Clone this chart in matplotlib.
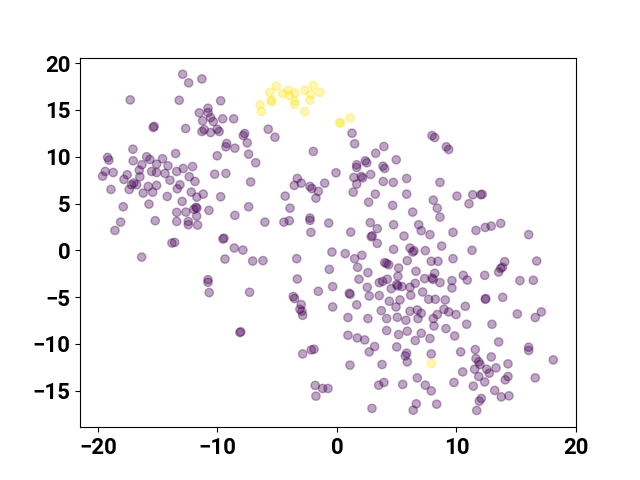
import matplotlib
matplotlib.use("Agg")
import matplotlib.pyplot as plt
import numpy as np

# Cluster 0 (purple) points
purple_x = [
    -12.91, -12.41, -11.30, -17.30, -13.20, -11.52, -11.24, -15.37, -15.30, -12.66,
    -11.30, -11.10, -17.07, -13.50, -19.19, -19.08, -15.92, -15.65, -14.59, -17.05,
    -16.32, -15.09, -14.14, -12.08, -12.86, -19.39, -18.72, -16.54, -15.51, -15.09,
    -14.39, -13.41, -19.61, -17.55, -16.49, -17.82, -13.97, -12.36, -17.18, -17.00,
    -16.76, -15.79, -15.09, -13.14, -11.88, -18.91, -17.38, -16.21, -15.42, -14.20,
    -13.36, -12.19, -11.72, -11.19, -17.88, -15.73, -12.95, -13.41, -12.64, -11.97,
    -11.80, -11.72, -11.74, -18.10, -15.21, -13.41, -12.44, -12.44, -11.66, -18.58,
    -13.81, -13.58, -16.34,
    -9.73, -10.79, -10.79, -10.57, -10.35, -9.56, -8.64, -10.57, -10.02, -9.85,
    -5.75, -5.19, -7.72, -7.84, -7.51, -9.23, -9.29, -8.54, -7.39, -10.02,
    -6.80, -1.98, -10.23, -9.29, -7.22, -3.32, -2.99,
    1.26, 1.48, 7.95, 8.18, 9.15, 9.35, 3.93, 3.24, 4.96, 2.37,
    2.49, 1.65, 1.65, 3.85, 3.99, -0.08, 1.42, 2.03, 2.15, 2.82,
    5.83, 3.87, 4.71, 8.62,
    -9.73, -10.71, -8.54, -7.39, -6.03, -4.33, -3.93, -4.44, -3.99, -3.57,
    -2.26, -2.10, -1.56, -1.76, -1.03, -2.26, -2.26, -0.69, -2.18, -9.54,
    -9.45, -8.59, -7.87, -9.37, -7.05, -6.19, -3.37, -0.64, -3.32, -10.79,
    -10.79, -10.69, -7.31, -3.66, -3.54, -1.56, -0.36, -2.99,
    1.65, 1.36, 3.21, 5.83, 2.65, 4.66, 8.06, 8.39, 8.62, 6.33,
    2.79, 3.37, 4.74, 6.84, 7.05, 7.78, 1.15, 2.87, 2.95, 3.37,
    5.61, 4.74, 6.11, 6.33, 6.45, 7.39, 8.76, 9.71, -0.42, 0.69,
    1.48, 2.09, 1.73, 3.99, 4.33, 4.15, 5.88, 7.89, 8.45, 9.71,
    2.59, 5.16, 6.61, 8.18, 1.84, 3.54, 3.82, 4.21, 5.10, 7.34,
    7.95, 8.05, 8.62, 2.54, 4.54, 5.00, 5.10, 5.44, 6.11, 6.55,
    9.62, 1.03, 1.10, 2.70, 3.54, 4.38, 5.27, 6.17, 7.17, 7.67,
    8.23, 9.06, 1.65,
    10.04, 11.36, 12.03, 12.15, 11.05, 11.63, 12.41, 12.91, 13.70, 16.04,
    11.30, 14.03, 13.70, 13.85, 13.53, 16.71, 10.57, 10.90, 12.36, 15.31,
    16.43, 9.62, 12.41, 12.45, 13.87, 10.74,
    -3.10, -2.93, -2.87, -8.12, -8.05, -2.87, -2.15, -1.92, -1.82, -1.20,
    -0.75, -1.76,
    -0.36, 3.71, 4.94, 6.11, 6.72, 7.05, 8.39, 8.95, 9.35, 0.92,
    2.59, 4.16, 5.05, 5.77, 6.78, 8.06, 8.12, 9.12, 0.92, 1.70,
    2.32, 4.16, 5.16, 5.88, 7.05, 6.55, 7.78, 9.85, 3.15, 2.70,
    5.00, 5.83, 5.72, 5.88, 7.89, 1.09, 3.77, 6.72, 7.39, 7.89,
    3.93, 3.49, 5.50, 9.79, 2.93, 6.64, 6.38, 8.34,
    9.96, 15.09, 17.10, 16.59, 10.85, 12.97, 13.53, 10.35, 11.57, 16.04,
    16.04, 18.10, 11.63, 11.86, 12.91, 11.97, 12.53, 12.74, 13.31, 14.31,
    10.52, 11.52, 11.86, 12.36, 14.31, 14.08, 16.59, 11.41, 13.20, 13.75,
    14.39, 12.08, 11.91, 11.69,
]
purple_y = [
    18.82, 17.90, 18.32, 16.08, 16.04, 14.70, 13.84, 13.13, 13.25, 13.02,
    12.70, 12.90, 10.81, 10.35, 9.93, 9.64, 10.00, 9.71, 9.79, 9.57,
    9.15, 9.21, 9.04, 8.96, 8.75, 8.43, 8.32, 8.57, 8.43, 8.32,
    8.22, 8.43, 7.93, 8.08, 7.87, 7.58, 7.50, 7.87, 7.01, 7.20,
    7.01, 6.83, 6.94, 7.01, 7.36, 6.51, 6.51, 6.12, 6.22, 5.76,
    6.58, 6.22, 5.69, 6.01, 4.66, 4.94, 5.23, 4.06, 4.09, 4.38,
    4.60, 4.51, 3.66, 3.02, 3.17, 3.09, 3.09, 2.74, 2.70, 2.13,
    0.78, 0.85, -0.72,
    15.98, 15.19, 14.73, 14.19, 13.77, 14.06, 14.06, 12.59, 12.95, 12.70,
    12.95, 12.09, 12.49, 12.27, 11.49, 11.42, 11.07, 10.92, 10.28, 10.11,
    9.36, 10.57, 8.14, 8.22, 7.31, 7.68, 7.18,
    12.52, 11.39, 12.27, 12.06, 11.07, 10.78, 11.10, 10.38, 9.68, 9.57,
    9.36, 9.15, 8.86, 9.00, 8.75, 8.29, 7.79, 7.90, 7.75, 8.11,
    7.68, 7.36, 7.26, 7.26,
    5.73, 4.27, 3.74, 4.66, 3.02, 5.80, 4.51, 3.02, 3.17, 6.94,
    6.83, 6.60, 6.30, 5.58, 7.18, 3.45, 3.20, 2.91, 1.92, 1.21,
    1.30, 0.25, 0.03, -0.93, -1.14, -1.10, -0.89, -2.03, -3.06, -3.13,
    -3.42, -4.51, -4.48, -4.94, -5.15, -4.38, -3.87, -5.80,
    7.08, 6.22, 6.01, 6.01, 5.15, 4.80, 5.37, 4.51, 3.55, 4.09,
    2.96, 2.32, 2.74, 2.74, 2.10, 1.68, 1.95, 1.46, 1.55, 0.75,
    1.53, 0.11, 0.25, -0.18, -0.05, -0.03, 0.46, 1.92, -0.18, -0.35,
    -0.89, -0.53, -1.81, -1.31, -1.53, -1.40, -1.10, -1.17, -1.17, -0.89,
    -2.38, -1.89, -2.24, -2.45, -3.09, -3.45, -3.31, -3.09, -2.77, -3.02,
    -2.96, -3.10, -3.45, -3.95, -4.09, -3.66, -3.80, -3.87, -3.95, -3.52,
    -4.02, -4.59, -4.70, -4.88, -4.83, -5.44, -5.30, -4.80, -4.45, -5.23,
    -5.23, -5.30, -5.82,
    5.80, 5.94, 5.94, 6.00, 4.98, 2.13, 2.45, 2.59, 2.88, 1.68,
    0.00, -1.21, -1.92, -1.80, -2.32, -1.14, -2.67, -3.17, -2.67, -3.23,
    -3.20, -3.23, -5.23, -5.15, -5.02, -5.98,
    -6.30, -6.51, -6.94, -8.78, -8.70, -11.07, -10.64, -10.57, -14.44, -14.76,
    -14.76, -15.58,
    -6.05, -6.44, -6.05, -6.51, -6.37, -6.72, -6.86, -6.30, -6.58, -7.18,
    -7.29, -7.29, -7.15, -7.47, -7.29, -7.29, -8.08, -8.36, -9.07, -9.36,
    -9.57, -8.57, -9.00, -8.64, -8.86, -9.64, -9.42, -9.15, -10.28, -10.85,
    -10.32, -10.99, -11.28, -11.92, -11.07, -12.27, -12.20, -13.63, -14.41, -15.02,
    -14.12, -14.41, -14.33, -14.12, -16.89, -16.40, -17.08, -16.44,
    -6.86, -6.80, -6.58, -7.18, -7.90, -7.90, -9.79, -10.85, -10.60, -10.35,
    -10.70, -11.71, -11.56, -11.92, -11.39, -12.20, -12.70, -13.13, -12.56, -12.13,
    -12.99, -12.70, -13.48, -14.06, -13.48, -13.84, -13.63, -14.51, -14.97, -15.66,
    -15.55, -15.83, -16.12, -17.11,
]

# Cluster 1 (yellow) points
yellow_x = [-5.08, -5.61, -4.54, -4.08, -3.51, -3.99, -2.70, -1.98, -1.42, -2.20,
            -2.26, -3.54, -3.54, -5.50, -5.45, -6.44, -6.33, -2.70, 0.23, 0.30,
            1.11, 7.89]
yellow_y = [17.53, 16.89, 16.76, 17.11, 16.83, 16.54, 17.11, 17.61, 16.89, 16.68,
            16.04, 15.98, 15.61, 16.04, 15.90, 15.55, 14.83, 14.83, 13.66, 13.60,
            14.16, -12.09]

x = np.array(purple_x + yellow_x)
y = np.array(purple_y + yellow_y)
labels = np.array([0] * len(purple_x) + [1] * len(yellow_x))

fig, ax = plt.subplots(figsize=(6.4, 4.8), dpi=100)
ax.scatter(x, y, c=labels, cmap="viridis", alpha=0.35)
ax.set_xlim(-21.5, 20.0)
ax.set_ylim(-18.9, 20.6)
ax.set_xticks([-20, -10, 0, 10, 20])
ax.set_yticks([-15, -10, -5, 0, 5, 10, 15, 20])
for lab in ax.get_xticklabels() + ax.get_yticklabels():
    lab.set_family(["Roboto", "DejaVu Sans"])
    lab.set_fontweight("bold")
    lab.set_fontsize(16)
fig.savefig("out.png", dpi=100)
